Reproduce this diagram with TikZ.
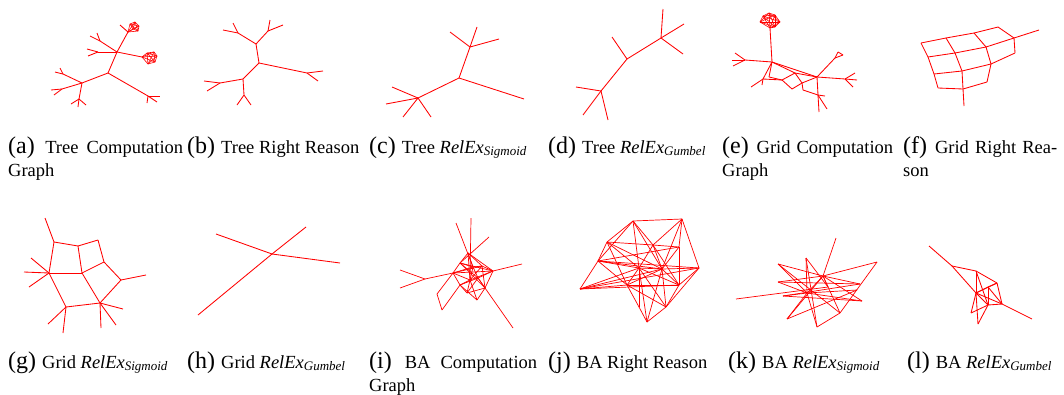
\documentclass[tikz,border=0pt]{standalone}
\usepackage{fontspec}
\setmainfont{Liberation Serif}
\usepackage{tikz}
\usetikzlibrary{calc, positioning}

\newcommand{\sublbl}[1]{{\fontsize{24}{23}\selectfont(#1)\ }}
\newcommand{\relex}[1]{\textit{RelEx}\raisebox{-0.35ex}{\fontsize{13}{13}\selectfont\itshape #1}}

\begin{document}
\begin{tikzpicture}
                [x=1pt, y=-1pt,
                edge/.style={red, line width=0.85pt, line join=round},
                subcap/.style={inner sep=0pt, anchor=base west, font=\fontsize{18.5}{23}\selectfont},
                wrapcap/.style={subcap, align=justify}]
                \useasboundingbox (0,0) rectangle (1064,394);

                % (a) tree computation graph
                \foreach \n/\x/\y in {a0/108/73, a1/117/52, a2/82/83, a3/148/96, a7/98/52, a8/87/49, a9/88/56,
                    a10/100/41, a11/90/36, a12/97/33, a13/63/74, a14/55/72, a15/60/68, a16/62/89, a17/51/90,
                    a18/54/95, a19/79/99, a20/71/104, a21/78/107, a22/86/105, a23/160/96, a24/157/102,
                    a25/147/103, a26/120/25,
                    at1/128/32, at2/130/24, at3/135/22, at4/139/26, at5/138/31, at6/133/29,
                    ar1/142/57, ar2/147/53, ar3/154/52, ar4/157/56, ar5/155/62, ar6/148/64}
                    \coordinate (\n) at (\x,\y);
                \foreach \u/\v in {a0/a1, a0/a2, a0/a3, a1/at1, a1/ar1, a1/a7, a1/a10, a7/a8, a7/a9, a10/a11,
                    a10/a12, a2/a13, a2/a16, a2/a19, a13/a14, a13/a15, a16/a17, a16/a18, a19/a20, a19/a21,
                    a19/a22, a3/a23, a3/a24, a3/a25, at1/a26}
                    \draw[edge] (\u) -- (\v);
                \foreach \i [evaluate=\i as \k using int(\i+1)] in {1,...,5}
                    \foreach \j in {\k,...,6} {
                        \draw[edge, line width=0.6pt] (at\i) -- (at\j);
                        \draw[edge, line width=0.6pt] (ar\i) -- (ar\j);
                    }

                % (b) tree right reason
                \foreach \n/\x/\y in {b0/259/63, b1/256/44, b2/243/79, b3/307/73, b4/238/33, b5/223/30,
                    b6/233/23, b7/268/31, b8/270/20, b9/283/25, b10/323/71, b11/318/81, b12/220/83,
                    b13/204/81, b14/207/91, b15/244/95, b16/237/105, b17/251/105}
                    \coordinate (\n) at (\x,\y);
                \foreach \u/\v in {b0/b1, b0/b2, b0/b3, b1/b4, b1/b7, b4/b5, b4/b6, b7/b8, b7/b9, b3/b10,
                    b3/b11, b2/b12, b2/b15, b12/b13, b12/b14, b15/b16, b15/b17}
                    \draw[edge] (\u) -- (\v);

                % (c) tree sigmoid
                \foreach \n/\x/\y in {c0/459/78, c1/470/47, c2/450/32, c3/477/27, c4/499/39, c5/418/98,
                    c6/392/87, c7/386/104, c8/403/117, c9/431/117, c10/524/99}
                    \coordinate (\n) at (\x,\y);
                \foreach \u/\v in {c0/c1, c0/c5, c0/c10, c1/c2, c1/c3, c1/c4, c5/c6, c5/c7, c5/c8, c5/c9}
                    \draw[edge] (\u) -- (\v);

                % (d) tree gumbel
                \foreach \n/\x/\y in {d0/627/59, d1/661/38, d2/663/9, d3/684/24, d4/683/54, d5/612/37,
                    d6/601/91, d7/576/87, d8/583/115, d9/608/120}
                    \coordinate (\n) at (\x,\y);
                \foreach \u/\v in {d0/d1, d0/d5, d0/d6, d1/d2, d1/d3, d1/d4, d6/d7, d6/d8, d6/d9}
                    \draw[edge] (\u) -- (\v);

                % (e) grid computation graph
                \foreach \n/\x/\y in {e0/772/62, e1/745/60, e2/732/60, e3/735/53, e4/733/66, e5/763/79,
                    e6/751/87, e7/762/85, e8/769/77, e9/782/80, e10/795/73, e11/792/89, e12/802/83,
                    e13/803/90, e14/817/77, e15/835/58, e16/838/52, e17/843/55, e18/845/79, e19/855/73,
                    e20/857/80, e21/853/87, e22/818/95, e23/825/96, e24/819/112, e25/827/109,
                    ec1/770/28, ec2/760/22, ec3/763/16, ec4/769/13, ec5/775/15, ec6/780/22, ec7/775/27}
                    \coordinate (\n) at (\x,\y);
                \foreach \u/\v in {ec1/e0, e0/e1, e1/e2, e1/e3, e1/e4, e0/e5, e5/e6, e5/e7, e0/e8, e8/e9,
                    e5/e9, e9/e10, e0/e10, e10/e14, e9/e11, e11/e12, e12/e10, e12/e14, e0/e14, e12/e13,
                    e14/e15, e15/e16, e16/e17, e17/e15, e14/e18, e18/e19, e18/e20, e18/e21, e14/e22,
                    e22/e23, e22/e24, e22/e25, e13/e22}
                    \draw[edge] (\u) -- (\v);
                \foreach \i [evaluate=\i as \k using int(\i+1)] in {1,...,6}
                    \foreach \j in {\k,...,7}
                        \draw[edge, line width=0.6pt] (ec\i) -- (ec\j);

                % (f) grid right reason
                \foreach \n/\x/\y in {f1/921/43, f2/946/38, f3/974/33, f4/998/27, f5/1014/38, f6/1039/30,
                    f7/928/57, f8/955/53, f9/986/47, f10/1015/53, f11/934/74, f12/962/71, f13/991/64,
                    f14/938/88, f15/963/89, f16/987/82, f17/964/106}
                    \coordinate (\n) at (\x,\y);
                \foreach \u/\v in {f1/f2, f2/f3, f3/f4, f4/f5, f5/f6, f7/f8, f8/f9, f9/f5, f5/f10, f10/f13,
                    f11/f12, f12/f13, f14/f15, f15/f16, f1/f7, f7/f11, f11/f14, f2/f8, f8/f12, f12/f15,
                    f15/f17, f3/f9, f9/f13, f13/f16}
                    \draw[edge] (\u) -- (\v);

                % (g) grid sigmoid
                \foreach \n/\x/\y in {g1/45/218, g2/54/242, g3/78/246, g4/98/240, g5/49/273, g6/82/273,
                    g7/104/262, g8/121/280, g9/146/275, g10/66/307, g11/100/303, g12/31/258, g13/24/272,
                    g14/29/287, g15/48/324, g16/63/333, g17/123/309, g18/116/325, g19/101/328}
                    \coordinate (\n) at (\x,\y);
                \foreach \u/\v in {g1/g2, g2/g3, g3/g4, g2/g5, g3/g6, g4/g7, g5/g6, g6/g7, g7/g8, g8/g9,
                    g5/g10, g6/g11, g8/g11, g10/g11, g5/g12, g5/g13, g5/g14, g10/g15, g10/g16, g11/g17,
                    g11/g18, g11/g19}
                    \draw[edge] (\u) -- (\v);

                % (h) grid gumbel
                \foreach \n/\x/\y in {h0/272/254, h1/216/234, h2/306/227, h3/340/263, h4/198/315}
                    \coordinate (\n) at (\x,\y);
                \foreach \v in {h1, h2, h3, h4}
                    \draw[edge] (h0) -- (\v);

                % (i) BA computation graph
                \foreach \n/\x/\y in {i1/400/270, i2/400/288, i3/425/279, i4/456/223, i5/471/218,
                    i6/489/237, i7/522/264, i8/513/328, i9/437/294, i10/442/310,
                    ic1/468/253, ic2/460/263, ic3/453/273, ic4/473/267, ic5/482/266, ic6/493/271,
                    ic7/470/280, ic8/478/278, ic9/460/285, ic10/477/300, ic11/467/293, ic12/485/288}
                    \coordinate (\n) at (\x,\y);
                \foreach \u/\v in {i1/i3, i2/i3, i3/ic3, i4/ic4, i5/ic7, i6/ic2, i7/ic6, i8/ic8, ic3/i9,
                    i9/i10, i10/ic9,
                    ic1/ic2, ic1/ic4, ic1/ic5, ic1/ic7, ic2/ic3, ic2/ic4, ic2/ic6, ic2/ic8, ic3/ic4,
                    ic3/ic6, ic3/ic7, ic3/ic9, ic4/ic5, ic4/ic8, ic4/ic11, ic5/ic6, ic5/ic7, ic5/ic12,
                    ic6/ic7, ic6/ic8, ic6/ic12, ic7/ic9, ic7/ic10, ic8/ic9, ic8/ic11, ic8/ic12, ic9/ic10,
                    ic9/ic11, ic10/ic12, ic11/ic12, ic3/ic5, ic2/ic12, ic1/ic6}
                    \draw[edge, line width=0.7pt] (\u) -- (\v);

                % (j) BA right reason
                \foreach \n/\x/\y in {j1/633/221, j2/682/219, j3/607/242, j4/598/261, j5/580/289,
                    j6/653/245, j7/679/247, j8/699/268, j9/639/268, j10/662/269, j11/679/285,
                    j12/627/285, j13/666/307, j14/647/322, j15/639/307}
                    \coordinate (\n) at (\x,\y);
                \foreach \u/\v in {j1/j2, j1/j3, j1/j4, j1/j6, j1/j9, j2/j6, j2/j8, j2/j7, j2/j10, j3/j4,
                    j3/j9, j3/j12, j3/j10, j4/j5, j4/j9, j4/j8, j4/j12, j5/j9, j5/j10, j5/j12, j6/j7,
                    j6/j9, j6/j10, j6/j11, j7/j10, j7/j11, j8/j10, j8/j11, j8/j13, j9/j10, j9/j12,
                    j9/j13, j9/j14, j9/j11, j10/j11, j10/j13, j10/j14, j10/j12, j11/j13, j12/j15,
                    j12/j13, j13/j14, j14/j15, j15/j9, j12/j11, j1/j10, j3/j6, j4/j10, j5/j8, j5/j11,
                    j4/j7}
                    \draw[edge, line width=0.7pt] (\u) -- (\v);

                % (k) BA sigmoid
                \foreach \n/\x/\y in {k1/836/238, k2/823/276, k3/807/293, k4/778/264, k5/806/258,
                    k6/877/262, k7/860/284, k8/862/301, k9/840/313, k10/817/327, k11/787/319,
                    k12/778/282, k13/783/296, k14/736/299, k15/828/287, k16/857/290}
                    \coordinate (\n) at (\x,\y);
                \foreach \u/\v in {k1/k2, k2/k4, k2/k6, k2/k7, k2/k8, k2/k3, k2/k12, k2/k9, k2/k11,
                    k2/k15, k3/k4, k3/k5, k3/k8, k3/k10, k3/k11, k3/k12, k3/k16, k3/k13, k5/k15, k6/k9,
                    k7/k13, k7/k12, k8/k13, k9/k10, k10/k5, k11/k16, k14/k15, k4/k9}
                    \draw[edge, line width=0.7pt] (\u) -- (\v);

                % (l) BA gumbel
                \foreach \n/\x/\y in {l1/929/246, l2/952/266, l3/976/271, l4/997/283, l5/976/293,
                    l6/988/287, l7/1002/304, l8/988/305, l9/971/313, l10/978/324, l11/1032/319}
                    \coordinate (\n) at (\x,\y);
                \foreach \u/\v in {l1/l2, l2/l3, l2/l5, l3/l4, l3/l5, l3/l8, l4/l5, l4/l7, l4/l6, l5/l6,
                    l5/l7, l5/l8, l5/l9, l5/l10, l6/l8, l6/l7, l7/l11, l7/l8, l9/l8, l10/l8}
                    \draw[edge] (\u) -- (\v);

                % captions
                \node[wrapcap, text width=175pt] (capa) at (8,153) {\sublbl{a}Tree Computation\linebreak Graph};
                \node[subcap] (capb) at (187,153) {\sublbl{b}Tree Right Reason};
                \node[subcap] (capc) at (369,153) {\sublbl{c}Tree \relex{Sigmoid}};
                \node[subcap] (capd) at (548,153) {\sublbl{d}Tree \relex{Gumbel}};
                \node[wrapcap, text width=171pt] (cape) at (722,153) {\sublbl{e}Grid Computation\linebreak Graph};
                \node[wrapcap, text width=154pt] (capf) at (903,153) {\sublbl{f}Grid Right Rea-\linebreak son};
                \node[subcap] (capg) at (8,368) {\sublbl{g}Grid \relex{Sigmoid}};
                \node[subcap] (caph) at (187,368) {\sublbl{h}Grid \relex{Gumbel}};
                \node[wrapcap, text width=168pt] (capi) at (369,368) {\sublbl{i}BA Computation\linebreak Graph};
                \node[subcap] (capj) at (548,368) {\sublbl{j}BA Right Reason};
                \node[subcap] (capk) at (728,368) {\sublbl{k}BA \relex{Sigmoid}};
                \node[subcap] (capl) at (907,368) {\sublbl{l}BA \relex{Gumbel}};
            \end{tikzpicture}
\end{document}
